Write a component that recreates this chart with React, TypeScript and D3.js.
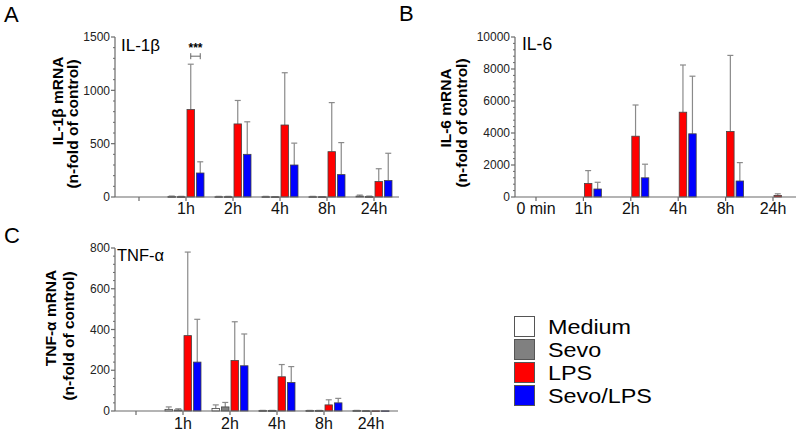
import React from "react";
import * as d3 from "d3";

const timepoints = ["0 min", "1h", "2h", "4h", "8h", "24h"];
const seriesNames = ["Medium", "Sevo", "LPS", "Sevo/LPS"];
const seriesFill = ["#ffffff", "#808080", "#ff0000", "#0000ff"];

// IL-1β (means and SD)
const il1bMedium = [0, 4, 3, 3, 3, 8];
const il1bMediumSd = [0, 5, 3, 3, 3, 10];
const il1bSevo = [0, 3, 3, 2, 2, 4];
const il1bSevoSd = [0, 3, 3, 2, 2, 5];
const il1bLps = [0, 820, 685, 675, 425, 145];
const il1bLpsSd = [0, 425, 220, 490, 460, 120];
const il1bSevoLps = [0, 225, 400, 300, 210, 155];
const il1bSevoLpsSd = [0, 105, 305, 205, 300, 255];

// IL-6
const il6Medium = [0, 0, 0, 0, 0, 0];
const il6MediumSd = [0, 0, 0, 0, 0, 0];
const il6Sevo = [0, 0, 0, 0, 0, 0];
const il6SevoSd = [0, 0, 0, 0, 0, 0];
const il6Lps = [0, 850, 3800, 5300, 4100, 100];
const il6LpsSd = [0, 800, 1950, 2950, 4750, 100];
const il6SevoLps = [0, 500, 1200, 3950, 1000, 0];
const il6SevoLpsSd = [0, 420, 850, 3600, 1150, 0];

// TNF-α
const tnfMedium = [0, 8, 12, 2, 2, 2];
const tnfMediumSd = [0, 12, 18, 1, 1, 1];
const tnfSevo = [0, 5, 20, 2, 2, 1];
const tnfSevoSd = [0, 6, 22, 1, 1, 1];
const tnfLps = [0, 370, 248, 168, 30, 1];
const tnfLpsSd = [0, 410, 190, 60, 25, 0];
const tnfSevoLps = [0, 240, 222, 140, 40, 1];
const tnfSevoLpsSd = [0, 210, 156, 78, 22, 0];

const FONT = "'Liberation Sans', Arial, Helvetica, sans-serif";
const AXIS = "#6a6a6a";

type PanelProps = {
  letter: string;
  letterX: number;
  letterY: number;
  title: string;
  titleX: number;
  titleY: number;
  titleSize: number;
  yLine1: string;
  yLine2: string;
  y1x: number;
  y1c: number;
  y2x: number;
  y2c: number;
  axisX: number;
  axisEnd: number;
  top: number;
  bottom: number;
  yMax: number;
  majorStep: number;
  minorStep: number;
  cat0: number;
  step: number;
  showZero: boolean;
  means: number[][];
  sds: number[][];
  labelBase: number;
  children?: React.ReactNode;
};

function Panel(p: PanelProps) {
  const y = d3.scaleLinear().domain([0, p.yMax]).range([p.bottom, p.top]);
  const xg = d3
    .scalePoint<string>()
    .domain(timepoints)
    .range([p.cat0, p.cat0 + p.step * (timepoints.length - 1)]);
  const xi = d3.scaleBand<string>().domain(seriesNames).range([-18, 18]).paddingInner(0.21);
  const majors = d3.range(0, p.yMax + 1, p.majorStep);
  const minors = d3.range(0, p.yMax + 1, p.minorStep).filter((v) => v % p.majorStep !== 0);
  const bw = xi.bandwidth();
  return (
    <g>
      <text x={p.letterX} y={p.letterY} fontSize={22} fontFamily={FONT}>
        {p.letter}
      </text>
      <text x={p.titleX} y={p.titleY} fontSize={p.titleSize} fontFamily={FONT}>
        {p.title}
      </text>
      <text
        transform={`translate(${p.y1x},${p.y1c}) rotate(-90)`}
        textAnchor="middle"
        fontSize={15.5}
        fontWeight="bold"
        fontFamily={FONT}
      >
        {p.yLine1}
      </text>
      <text
        transform={`translate(${p.y2x},${p.y2c}) rotate(-90)`}
        textAnchor="middle"
        fontSize={15.5}
        fontWeight="bold"
        fontFamily={FONT}
      >
        {p.yLine2}
      </text>
      {/* bars */}
      {timepoints.map((t, ti) =>
        seriesNames.map((s, si) => {
          const v = p.means[si][ti];
          const sd = p.sds[si][ti];
          if (v <= 0) return null;
          const bx = (xg(t) as number) + (xi(s) as number);
          const cx = bx + bw / 2;
          const yTop = y(v + sd);
          return (
            <g key={t + s}>
              {sd > 0 && (
                <g stroke="#8a8a8a" strokeWidth={1.2}>
                  <line x1={cx} x2={cx} y1={y(v)} y2={yTop} />
                  <line x1={cx - 3} x2={cx + 3} y1={yTop} y2={yTop} />
                </g>
              )}
              <rect
                x={bx}
                y={y(v)}
                width={bw}
                height={Math.max(0.8, p.bottom - y(v))}
                fill={seriesFill[si]}
                stroke="#444"
                strokeWidth={0.8}
              />
            </g>
          );
        })
      )}
      {/* y axis */}
      <line x1={p.axisX} x2={p.axisX} y1={p.top} y2={p.bottom} stroke={AXIS} strokeWidth={1.2} />
      {majors.map((v) => (
        <g key={"M" + v}>
          <line x1={p.axisX - 4} x2={p.axisX} y1={y(v)} y2={y(v)} stroke={AXIS} strokeWidth={1.2} />
          <text
            x={p.axisX - 5}
            y={y(v)}
            dy="0.35em"
            textAnchor="end"
            fontSize={12}
            fontFamily={FONT}
            fill="#222"
          >
            {v}
          </text>
        </g>
      ))}
      {minors.map((v) => (
        <line key={"m" + v} x1={p.axisX - 2} x2={p.axisX} y1={y(v)} y2={y(v)} stroke={AXIS} strokeWidth={1} />
      ))}
      {/* x axis */}
      <line x1={p.axisX} x2={p.axisEnd} y1={p.bottom} y2={p.bottom} stroke={AXIS} strokeWidth={1.2} />
      {timepoints.map((t, i) => (
        <g key={"x" + t}>
          <line
            x1={xg(t) as number}
            x2={xg(t) as number}
            y1={p.bottom}
            y2={p.bottom + 4}
            stroke={AXIS}
            strokeWidth={1.2}
          />
          {(i > 0 || p.showZero) && (
            <text
              x={xg(t) as number}
              y={p.labelBase}
              textAnchor="middle"
              fontSize={16}
              fontFamily={FONT}
              fill="#111"
            >
              {t}
            </text>
          )}
        </g>
      ))}
      {p.children}
    </g>
  );
}

export default function App() {
  const yA = d3.scaleLinear().domain([0, 1500]).range([197, 37]);
  const xgA = d3.scalePoint<string>().domain(timepoints).range([139, 139 + 47 * 5]);
  const xiA = d3.scaleBand<string>().domain(seriesNames).range([-18, 18]).paddingInner(0.21);
  const redC = (xgA("1h") as number) + (xiA("LPS") as number) + xiA.bandwidth() / 2;
  const blueC = (xgA("1h") as number) + (xiA("Sevo/LPS") as number) + xiA.bandwidth() / 2;
  const brY = yA(1245) - 8;
  return (
    <svg width={800} height={431} style={{ position: "absolute", left: 0, top: 0 }}>
      <rect width={800} height={431} fill="#fff" />
      <Panel
        letter="A"
        letterX={4}
        letterY={22}
        title="IL-1β"
        titleX={121}
        titleY={51}
        titleSize={17}
        yLine1="IL-1β mRNA"
        yLine2="(n-fold of control)"
        y1x={63}
        y1c={101}
        y2x={78}
        y2c={124}
        axisX={115}
        axisEnd={399}
        top={37}
        bottom={197}
        yMax={1500}
        majorStep={500}
        minorStep={100}
        cat0={139}
        step={47}
        showZero={false}
        means={[il1bMedium, il1bSevo, il1bLps, il1bSevoLps]}
        sds={[il1bMediumSd, il1bSevoSd, il1bLpsSd, il1bSevoLpsSd]}
        labelBase={214}
      >
        <g stroke="#666" strokeWidth={1}>
          <line x1={redC} x2={blueC} y1={brY} y2={brY} />
          <line x1={redC} x2={redC} y1={brY - 3} y2={brY + 3} />
          <line x1={blueC} x2={blueC} y1={brY - 3} y2={brY + 3} />
        </g>
        <text
          x={(redC + blueC) / 2}
          y={brY - 4}
          textAnchor="middle"
          fontSize={12}
          fontWeight="bold"
          fontFamily={FONT}
        >
          ***
        </text>
      </Panel>
      <Panel
        letter="B"
        letterX={399}
        letterY={21}
        title="IL-6"
        titleX={522}
        titleY={50}
        titleSize={17.5}
        yLine1="IL-6 mRNA"
        yLine2="(n-fold of control)"
        y1x={451}
        y1c={108}
        y2x={467}
        y2c={123}
        axisX={515}
        axisEnd={796}
        top={37}
        bottom={197}
        yMax={10000}
        majorStep={2000}
        minorStep={400}
        cat0={536}
        step={47.4}
        showZero={true}
        means={[il6Medium, il6Sevo, il6Lps, il6SevoLps]}
        sds={[il6MediumSd, il6SevoSd, il6LpsSd, il6SevoLpsSd]}
        labelBase={214}
      />
      <Panel
        letter="C"
        letterX={4}
        letterY={243}
        title="TNF-α"
        titleX={117}
        titleY={261}
        titleSize={16.5}
        yLine1="TNF-α mRNA"
        yLine2="(n-fold of control)"
        y1x={56}
        y1c={318}
        y2x={74}
        y2c={336}
        axisX={115}
        axisEnd={398}
        top={248}
        bottom={411}
        yMax={800}
        majorStep={200}
        minorStep={40}
        cat0={136}
        step={47}
        showZero={false}
        means={[tnfMedium, tnfSevo, tnfLps, tnfSevoLps]}
        sds={[tnfMediumSd, tnfSevoSd, tnfLpsSd, tnfSevoLpsSd]}
        labelBase={429}
      />
      {/* legend */}
      <g>
        {seriesNames.map((s, i) => (
          <g key={s} transform={`translate(514,${316 + i * 23})`}>
            <rect x={0.5} y={0.5} width={20} height={20} fill={seriesFill[i]} stroke="#555" strokeWidth={1} />
            <text
              transform="translate(34,18) scale(1.14,1)"
              fontSize={20.5}
              fontFamily={FONT}
              fill="#000"
            >
              {s}
            </text>
          </g>
        ))}
      </g>
    </svg>
  );
}
